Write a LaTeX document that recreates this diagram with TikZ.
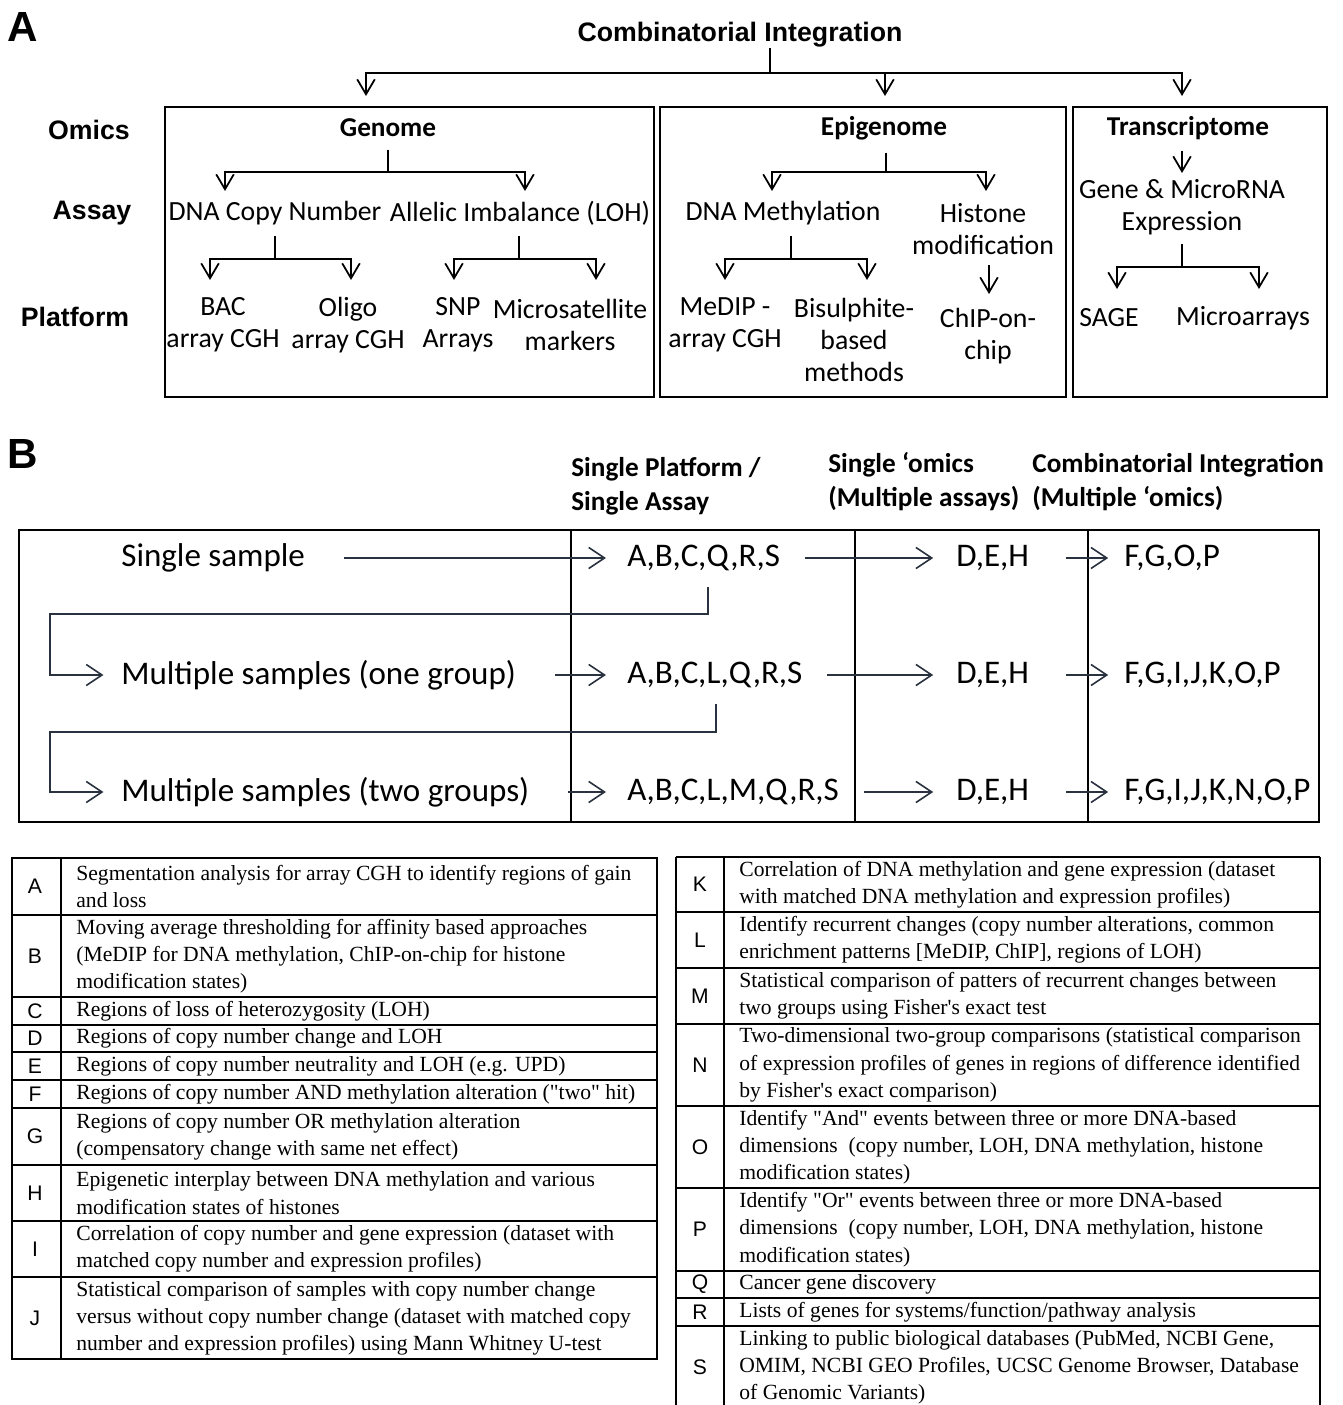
\documentclass[tikz,border=0pt]{standalone}
\usepackage{fontspec}
\setmainfont{Carlito}
\newfontfamily\arialfont{Liberation Sans}
\newfontfamily\timesfont{Liberation Serif}
\usetikzlibrary{arrows.meta,calc}
\definecolor{flowgray}{RGB}{42,50,64}
\tikzset{
	panel/.style={font=\arialfont\bfseries\fontsize{24}{24}\selectfont, inner sep=0pt},
	levelname/.style={font=\arialfont\bfseries\fontsize{15.2}{15.2}\selectfont, inner sep=0pt},
	omic/.style={font=\bfseries\fontsize{15.5}{16}\selectfont, inner sep=3pt},
	item/.style={font=\fontsize{15.8}{18.1}\selectfont, align=center, inner sep=2pt},
	branch/.style={line width=1pt},
	down/.style={line width=1pt, -{Straight Barb[length=8.5pt,width=10pt]}},
	omicbox/.style={line width=1.2pt},
	colhead/.style={font=\bfseries\fontsize{15.5}{19.3}\selectfont, align=left, anchor=west, inner sep=0pt},
	sample/.style={font=\fontsize{18.8}{20}\selectfont, anchor=west, inner sep=0pt},
	flow/.style={flowgray, line width=0.9pt, -{Straight Barb[length=9pt,width=12pt]}},
	frame/.style={line width=1.2pt},
	keyletter/.style={font=\arialfont\fontsize{12}{12}\selectfont, inner sep=0pt},
	keytext/.style={font=\timesfont\fontsize{12.3}{15.5}\selectfont, align=left, anchor=west, inner sep=0pt},
	keyline/.style={line width=1.1pt}
}
\begin{document}
\begin{tikzpicture}[x=0.02cm, y=-0.02cm]
	\useasboundingbox (0,0) rectangle (1342,1405);

	% Panel A
	\node[panel] (lblA) at (23,27) {A};
	\node[levelname] (title) at (740,35) {Combinatorial Integration};
	\node[levelname] (omics) at (89,130) {Omics};
	\node[levelname] (assay) at (92,213) {Assay};
	\node[levelname] (platform) at (75,317) {Platform};

	% the three omics boxes
	\draw[omicbox] (165,107) rectangle (654,397);
	\draw[omicbox] (660,107) rectangle (1066,397);
	\draw[omicbox] (1073,107) rectangle (1327,397);

	\coordinate (top-j) at (770,73);
	\coordinate (gtip) at (366,96);
	\coordinate (etip) at (885,96);
	\coordinate (ttip) at (1182,96);
	\draw[branch] (title.south -| top-j) -- (top-j);
	\foreach \t in {gtip,etip,ttip}
		\draw[down] (top-j) -| (\t);

	% Genome
	\node[omic] (genome) at (388,128) {Genome};
	\node[item] (dnacn) at (275,213) {DNA Copy Number};
	\node[item] (loh) at (520,213) {Allelic Imbalance (LOH)};
	\node[item] (bac) at (223,325) {BAC\\array CGH};
	\node[item] (oligo) at (348,325) {Oligo\\array CGH};
	\node[item] (snp) at (458,325) {SNP\\Arrays};
	\node[item] (micro) at (570,325) {Microsatellite\\markers};
	\coordinate (genome-j) at (388,172);
	\coordinate (dnacn-in) at (225,191);
	\coordinate (loh-in) at (525,191);
	\coordinate (dnacn-j) at (275,259);
	\coordinate (bac-in) at (210,280);
	\coordinate (oligo-in) at (351,280);
	\coordinate (loh-j) at (519,259);
	\coordinate (snp-in) at (454,280);
	\coordinate (micro-in) at (596,280);
	\draw[branch, shorten <=4pt] (genome.south -| genome-j) -- (genome-j);
	\draw[down] (genome-j) -| (dnacn-in);
	\draw[down] (genome-j) -| (loh-in);
	\draw[branch, shorten <=4pt] (dnacn.south -| dnacn-j) -- (dnacn-j);
	\draw[down] (dnacn-j) -| (bac-in);
	\draw[down] (dnacn-j) -| (oligo-in);
	\draw[branch, shorten <=4pt] (loh.south -| loh-j) -- (loh-j);
	\draw[down] (loh-j) -| (snp-in);
	\draw[down] (loh-j) -| (micro-in);

	% Epigenome
	\node[omic] (epigenome) at (884,128) {Epigenome};
	\node[item] (dnam) at (783,213) {DNA Methylation};
	\node[item] (hist) at (983,229) {Histone\\modification};
	\node[item] (medip) at (725,325) {MeDIP -\\array CGH};
	\node[item] (bis) at (854,340) {Bisulphite-\\based\\methods};
	\node[item] (chip) at (988,336) {ChIP-on-\\chip};
	\coordinate (epi-j) at (886,172);
	\coordinate (dnam-in) at (772,191);
	\coordinate (hist-in) at (986,191);
	\coordinate (dnam-j) at (791,259);
	\coordinate (medip-in) at (725,280);
	\coordinate (bis-in) at (867,280);
	\coordinate (chip-in) at (989,294);
	\draw[branch, shorten <=4pt] (epigenome.south -| epi-j) -- (epi-j);
	\draw[down] (epi-j) -| (dnam-in);
	\draw[down] (epi-j) -| (hist-in);
	\draw[branch, shorten <=4pt] (dnam.south -| dnam-j) -- (dnam-j);
	\draw[down] (dnam-j) -| (medip-in);
	\draw[down] (dnam-j) -| (bis-in);
	\draw[down, shorten <=4pt] (hist.south -| chip-in) -- (chip-in);

	% Transcriptome
	\node[omic] (transcriptome) at (1188,128) {Transcriptome};
	\node[item] (expr) at (1182,207) {Gene \& MicroRNA\\Expression};
	\node[item] (sage) at (1109,318) {SAGE};
	\node[item] (marr) at (1243,318) {Microarrays};
	\coordinate (expr-in) at (1182,173);
	\coordinate (expr-j) at (1182,267);
	\coordinate (sage-in) at (1117,289);
	\coordinate (marr-in) at (1259,289);
	\draw[down, shorten <=3pt] (transcriptome.south -| expr-in) -- (expr-in);
	\draw[branch, shorten <=3pt] (expr.south -| expr-j) -- (expr-j);
	\draw[down] (expr-j) -| (sage-in);
	\draw[down] (expr-j) -| (marr-in);

	% Panel B
	\node[panel] (lblB) at (23,454) {B};
	\node[colhead] (hplat) at (571,486) {Single Platform /\\Single Assay};
	\node[colhead] (homics) at (828,482) {Single ‘omics\\(Multiple assays)};
	\node[colhead] (hcomb) at (1032,482) {Combinatorial Integration\\(Multiple ‘omics)};

	\draw[frame] (19,530) rectangle (1319,822);
	\foreach \x in {571,855,1088}
		\draw[line width=0.8pt] (\x,530) -- (\x,822);

	\foreach \r/\y/\name/\plat/\comb in {
			1/558/Single sample/{A,B,C,Q,R,S}/{F,G,O,P},
			2/675/Multiple samples (one group)/{A,B,C,L,Q,R,S}/{F,G,I,J,K,O,P},
			3/792/Multiple samples (two groups)/{A,B,C,L,M,Q,R,S}/{F,G,I,J,K,N,O,P}} {
			\node[sample] (smp\r) at (121,\y) {\name};
			\node[sample] (plat\r) at (627,\y) {\plat};
			\node[sample] (omic\r) at (956,\y) {D,E,H};
			\node[sample] (comb\r) at (1124,\y) {\comb};
			\draw[flow, shorten <=22pt, shorten >=12pt] (smp\r.east) -- (plat\r.west);
			\draw[flow, shorten <=14pt, shorten >=13pt] (plat\r.east) -- (omic\r.west);
			\draw[flow, shorten <=21pt, shorten >=9pt] (omic\r.east) -- (comb\r.west);
		}

	% from one row down to the next
	\coordinate (lane) at (50,0);
	\coordinate (drop1) at (708,614);
	\coordinate (drop2) at (716,732);
	\draw[flow, shorten <=9pt, shorten >=10pt] (plat1.south -| drop1) -- (drop1) -| (lane |- smp2.west) -- (smp2.west);
	\draw[flow, shorten <=9pt, shorten >=10pt] (plat2.south -| drop2) -- (drop2) -| (lane |- smp3.west) -- (smp3.west);

	% Key, left half
	\draw[keyline] (12,858) rectangle (657,1359);
	\draw[keyline] (61,858) -- (61,1359);
	\foreach \l/\ya/\yb/\txt in {
			A/858/915/{Segmentation analysis for array CGH to identify regions of gain\\and loss},
			B/915/997/{Moving average thresholding for affinity based approaches\\(MeDIP for DNA methylation, ChIP-on-chip for histone\\modification states)},
			C/997/1025/{Regions of loss of heterozygosity (LOH)},
			D/1025/1052/{Regions of copy number change and LOH},
			E/1052/1080/{Regions of copy number neutrality and LOH (e.g. UPD)},
			F/1080/1108/{Regions of copy number AND methylation alteration ("two" hit)},
			G/1108/1165/{Regions of copy number OR methylation alteration\\(compensatory change with same net effect)},
			H/1165/1221/{Epigenetic interplay between DNA methylation and various\\modification states of histones},
			I/1221/1277/{Correlation of copy number and gene expression (dataset with\\matched copy number and expression profiles)},
			J/1277/1359/{Statistical comparison of samples with copy number change\\versus without copy number change (dataset with matched copy\\number and expression profiles) using Mann Whitney U-test}} {
			\node[keyletter] (key\l) at (35,{(\ya+\yb)/2}) {\l};
			\node[keytext] (txt\l) at (76,{(\ya+\yb)/2}) {\txt};
			\draw[keyline] (12,\ya) -- (657,\ya);
		}

	% Key, right half
	\draw[keyline] (676,857) -- (1320,857);
	\draw[keyline] (676,857) -- (676,1405);
	\draw[keyline] (724,857) -- (724,1405);
	\draw[keyline] (1320,857) -- (1320,1405);
	\foreach \l/\ya/\yb/\txt in {
			K/857/912/{Correlation of DNA methylation and gene expression (dataset\\with matched DNA methylation and expression profiles)},
			L/912/968/{Identify recurrent changes (copy number alterations, common\\enrichment patterns [MeDIP, ChIP], regions of LOH)},
			M/968/1024/{Statistical comparison of patters of recurrent changes between\\two groups using Fisher's exact test},
			N/1024/1106/{Two-dimensional two-group comparisons (statistical comparison\\of expression profiles of genes in regions of difference identified\\by Fisher's exact comparison)},
			O/1106/1188/{Identify "And" events between three or more DNA-based\\dimensions\ \ (copy number, LOH, DNA methylation, histone\\modification states)},
			P/1188/1271/{Identify "Or" events between three or more DNA-based\\dimensions\ \ (copy number, LOH, DNA methylation, histone\\modification states)},
			Q/1271/1298/{Cancer gene discovery},
			R/1298/1326/{Lists of genes for systems/function/pathway analysis},
			S/1326/1409/{Linking to public biological databases (PubMed, NCBI Gene,\\OMIM, NCBI GEO Profiles, UCSC Genome Browser, Database\\of Genomic Variants)}} {
			\node[keyletter] (key\l) at (700,{(\ya+\yb)/2}) {\l};
			\node[keytext] (txt\l) at (739,{(\ya+\yb)/2}) {\txt};
			\draw[keyline] (676,\ya) -- (1320,\ya);
		}
\end{tikzpicture}
\end{document}
